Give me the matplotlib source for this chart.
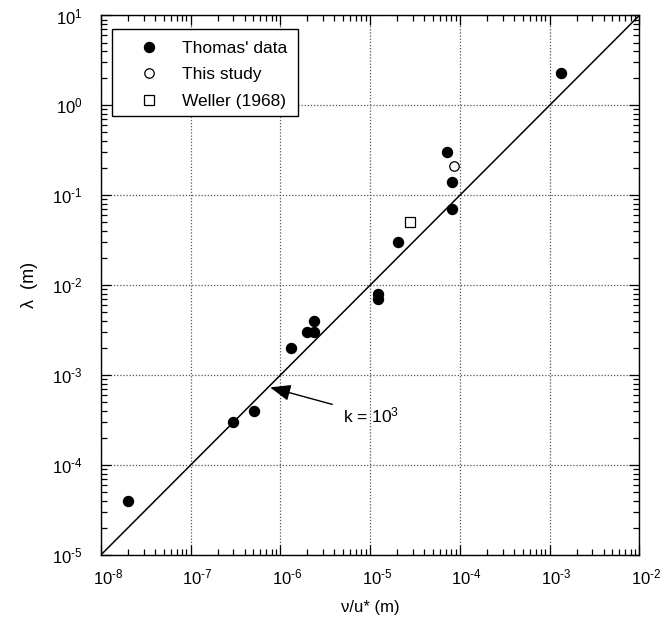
import matplotlib
matplotlib.use("Agg")
import matplotlib.pyplot as plt
import numpy as np
from matplotlib.ticker import LogLocator, FuncFormatter, NullFormatter
from matplotlib.transforms import ScaledTranslation
from matplotlib.patches import Rectangle

plt.rcParams['font.family'] = ['Liberation Sans', 'DejaVu Sans']
plt.rcParams['mathtext.fontset'] = 'custom'
plt.rcParams['mathtext.rm'] = 'Liberation Sans'
plt.rcParams['mathtext.it'] = 'Liberation Sans:italic'
plt.rcParams['mathtext.default'] = 'regular'

# Data
thomas_x = [2.0e-8, 3.0e-7, 5.1e-7, 1.3e-6, 2.0e-6, 2.35e-6, 2.35e-6, 1.23e-5, 1.23e-5,
            2.05e-5, 8.1e-5, 8.1e-5, 7.2e-5, 1.35e-3]
thomas_y = [4.0e-5, 3.0e-4, 4.0e-4, 2.0e-3, 3.0e-3, 3.0e-3, 4.0e-3, 8.0e-3, 7.0e-3,
            3.0e-2, 7.0e-2, 1.4e-1, 3.0e-1, 2.3]
study_x = [8.6e-5]
study_y = [0.21]
weller_x = [2.8e-5]
weller_y = [5.0e-2]
k_const = 1e3
line_x = [1e-8, 1e-2]

fig = plt.figure(figsize=(6.68, 6.18), dpi=100)
ax = fig.add_axes([0.151, 0.102, 0.806, 0.873])

lx = np.array(line_x)
ax.plot(lx, k_const * lx, color='black', lw=1.1, zorder=2)

ax.plot(thomas_x, thomas_y, 'o', color='black', ms=7.2, ls='none',
        label="Thomas' data", zorder=3)
ax.plot(study_x, study_y, 'o', mfc='white', mec='black', mew=0.9, ms=6.8, ls='none',
        label='This study', zorder=3)
ax.plot(weller_x, weller_y, 's', mfc='white', mec='black', mew=0.9, ms=6.8, ls='none',
        label='Weller (1968)', zorder=3)

ax.set_xscale('log')
ax.set_yscale('log')
ax.set_xlim(1e-8, 1e-2)
ax.set_ylim(1e-5, 1e1)


def fmt(v, pos):
    e = int(round(np.log10(v)))
    if e < 0:
        return r'$10^{\text{-' + str(-e) + '}}$'
    return r'$10^{' + str(e) + '}$'


for axis in (ax.xaxis, ax.yaxis):
    axis.set_major_locator(LogLocator(base=10, numticks=20))
    axis.set_minor_locator(LogLocator(base=10, subs=np.arange(2, 10), numticks=20))
    axis.set_major_formatter(FuncFormatter(fmt))
    axis.set_minor_formatter(NullFormatter())

ax.tick_params(which='both', direction='in', top=True, right=True, labelsize=12,
               width=0.9)
ax.tick_params(which='major', length=7)
ax.tick_params(which='minor', length=4)
ax.tick_params(axis='x', which='major', pad=9)
ax.tick_params(axis='y', which='major', pad=13)

ax.grid(True, which='major', linestyle=(0, (1, 1.5)), color='#555555', lw=0.9)
for s in ax.spines.values():
    s.set_linewidth(1.0)

ax.set_xlabel('\u03bd/u* (m)', fontsize=12, labelpad=9)
ax.set_ylabel('\u03bb  (m)', fontsize=13, labelpad=10)

# legend frame
ax.add_patch(Rectangle((0.0204, 0.8145), 0.346, 0.1595, transform=ax.transAxes,
                       facecolor='white', edgecolor='black', lw=1.0, zorder=4))
leg = ax.legend(loc='upper left', bbox_to_anchor=(0.057, 0.953), fontsize=12.5,
                frameon=False, handletextpad=0.9, borderpad=0.0,
                labelspacing=0.65, handlelength=2.0, borderaxespad=0.0)
leg.set_zorder(5)

ax.annotate('k = 10$^{3}$', xy=(7.7e-7, 7.3e-4), xytext=(5.0e-6, 3.6e-4),
            fontsize=12.5, va='center', ha='left',
            arrowprops=dict(arrowstyle='-|>,head_length=1.0,head_width=0.4',
                            color='black', lw=1.0, shrinkA=6, shrinkB=0))

fig.canvas.draw()
off = ScaledTranslation(7 / 100, 0, fig.dpi_scale_trans)
for lab in ax.get_xticklabels():
    lab.set_transform(lab.get_transform() + off)

fig.savefig('out.png', dpi=100)
